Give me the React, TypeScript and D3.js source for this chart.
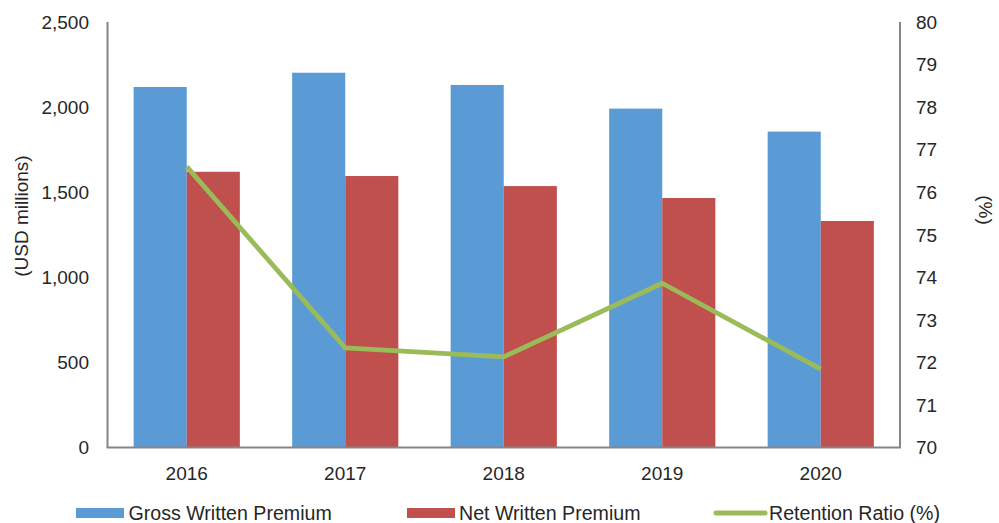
import React from "react";
import * as d3 from "d3";

const years = ["2016", "2017", "2018", "2019", "2020"];
const grossWritten = [2118, 2202, 2130, 1991, 1856];
const netWritten = [1620, 1595, 1536, 1466, 1331];
const retentionRatio = [76.6, 72.34, 72.13, 73.86, 71.84];
const leftTicks = [0, 500, 1000, 1500, 2000, 2500];
const rightTicks = [70, 71, 72, 73, 74, 75, 76, 77, 78, 79, 80];

const W = 999, H = 523;
const left = 107.5, right = 900, top = 22, bottom = 447.5;
const font = "'Liberation Sans', Arial, sans-serif";
const textColor = "#262626";

export default function App() {
  const x = d3.scaleBand().domain(years).range([left, right]).paddingInner(0.33).paddingOuter(0.165);
  const y = d3.scaleLinear().domain([0, 2500]).range([bottom, top]);
  const y2 = d3.scaleLinear().domain([70, 80]).range([bottom, top]);
  const bw = x.bandwidth() / 2;
  const line = d3.line<number>()
    .x((_, i) => (x(years[i]) as number) + bw)
    .y((d) => y2(d));

  return (
    <svg width={W} height={H} style={{ position: "absolute", left: 0, top: 0 }}>
      <rect width={W} height={H} fill="#fff" />
      {years.map((yr, i) => (
        <g key={yr}>
          <rect x={x(yr)} y={y(grossWritten[i])} width={bw} height={bottom - y(grossWritten[i])} fill="#5B9BD5" />
          <rect x={(x(yr) as number) + bw} y={y(netWritten[i])} width={bw} height={bottom - y(netWritten[i])} fill="#C0504D" />
          <text x={(x(yr) as number) + bw} y={479.5} textAnchor="middle" fontFamily={font} fontSize={19} fill={textColor}>{yr}</text>
        </g>
      ))}
      <path d={line(retentionRatio) || ""} fill="none" stroke="#9BBB59" strokeWidth={4.8} strokeLinejoin="round" />
      <line x1={left} x2={left} y1={top} y2={bottom} stroke="#868686" strokeWidth={2} />
      <line x1={right} x2={right} y1={top} y2={bottom} stroke="#868686" strokeWidth={2} />
      <line x1={left - 1} x2={right + 1} y1={bottom} y2={bottom} stroke="#868686" strokeWidth={2} />
      {leftTicks.map((t) => (
        <text key={t} x={89} y={y(t) + 6.8} textAnchor="end" fontFamily={font} fontSize={19} fill={textColor}>{d3.format(",")(t)}</text>
      ))}
      {rightTicks.map((t) => (
        <text key={t} x={916} y={y2(t) + 6.8} textAnchor="start" fontFamily={font} fontSize={19} fill={textColor}>{t}</text>
      ))}
      <text transform={`translate(27.5,216) rotate(-90)`} textAnchor="middle" fontFamily={font} fontSize={19} fill={textColor}>(USD millions)</text>
      <text transform={`translate(979,210) rotate(90)`} textAnchor="middle" fontFamily={font} fontSize={19} fill={textColor}>(%)</text>
      {/* legend */}
      <rect x={76} y={508} width={48} height={10} fill="#5B9BD5" />
      <text x={128.5} y={519.5} fontFamily={font} fontSize={19.6} fill={textColor}>Gross Written Premium</text>
      <rect x={407} y={508} width={48} height={10} fill="#C0504D" />
      <text x={459} y={519.5} fontFamily={font} fontSize={19.6} fill={textColor}>Net Written Premium</text>
      <line x1={716} x2={765} y1={513} y2={513} stroke="#9BBB59" strokeWidth={5} strokeLinecap="round" />
      <text x={769} y={519.5} fontFamily={font} fontSize={19.6} fill={textColor}>Retention Ratio (%)</text>
    </svg>
  );
}
